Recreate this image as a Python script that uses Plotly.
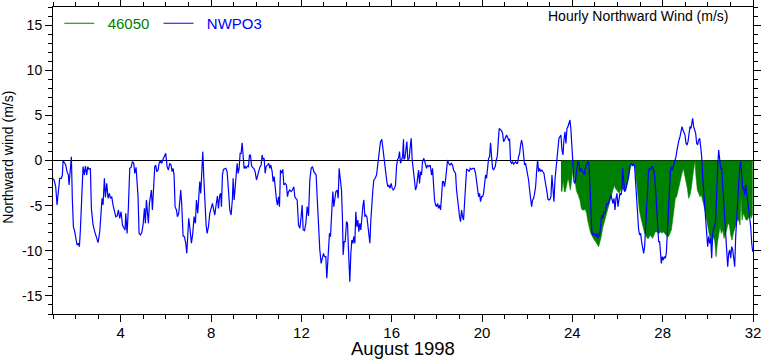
import plotly.graph_objects as go

# ---- NWPO3 hourly northward wind (day of August 1998, m/s) ----
nwpo3_day = [
1.000,1.046,1.120,1.179,1.297,1.371,1.415,1.445,1.519,1.563,1.622,1.681,1.711,1.770,1.814,1.858,1.903,1.962,
2.006,2.065,2.124,2.169,2.213,2.272,2.331,2.390,2.434,2.494,2.538,2.597,2.656,2.700,2.774,2.848,2.922,2.996,
3.070,3.129,3.173,3.217,3.276,3.321,3.380,3.439,3.498,3.542,3.601,3.660,3.719,3.779,3.838,3.897,3.956,
4.015,4.074,4.133,4.192,4.222,4.281,4.340,4.399,4.458,4.517,4.576,4.620,4.679,4.723,4.767,4.812,4.871,4.930,4.989,
5.048,5.092,5.137,5.181,5.225,5.269,5.314,5.358,5.402,5.447,5.506,5.550,5.594,5.654,5.698,5.757,5.816,5.875,5.934,5.993,
6.052,6.111,6.170,6.229,6.274,6.318,6.362,6.407,6.466,6.510,6.569,6.614,6.658,6.702,6.761,6.820,6.879,6.924,6.968,
7.012,7.071,7.130,7.189,7.249,7.308,7.352,7.411,7.455,7.500,7.544,7.588,7.633,7.677,7.736,7.780,7.825,7.884,7.943,
8.002,8.061,8.105,8.164,8.223,8.282,8.327,8.386,8.430,8.460,8.504,8.548,8.652,8.711,8.770,8.829,8.888,8.947,8.977,
9.021,9.065,9.110,9.154,9.198,9.243,9.287,9.331,9.376,9.420,9.464,9.509,9.553,9.612,9.656,9.701,9.745,9.789,9.833,9.893,9.952,
10.011,10.055,10.114,10.158,10.218,10.262,10.306,10.350,10.395,10.439,10.498,10.557,10.602,10.646,10.705,10.749,10.794,10.838,10.897,10.941,10.986,
11.030,11.074,11.118,11.178,11.222,11.281,11.340,11.384,11.429,11.488,11.547,11.606,11.665,11.709,11.754,11.813,11.872,11.931,11.990,
12.034,12.079,12.138,12.197,12.256,12.315,12.374,12.433,12.492,12.551,12.595,12.654,12.698,12.757,12.816,12.875,12.934,12.979,
13.023,13.082,13.126,13.185,13.244,13.289,13.348,13.392,13.436,13.481,13.525,13.584,13.628,13.673,13.732,13.776,13.820,13.850,13.894,13.939,13.998,
14.042,14.086,14.145,14.190,14.234,14.278,14.323,14.367,14.411,14.456,14.500,14.544,14.589,14.633,14.677,14.721,14.766,14.810,14.854,14.899,14.943,14.987,
15.032,15.076,15.120,15.165,15.209,15.268,15.327,15.371,15.416,15.460,15.504,15.563,15.608,15.652,15.696,15.741,15.785,15.829,15.874,15.918,15.977,
16.021,16.066,16.125,16.169,16.213,16.258,16.302,16.346,16.390,16.435,16.479,16.523,16.538,16.583,16.627,16.671,16.715,16.775,16.819,16.863,16.908,16.952,16.996,
17.055,17.100,17.144,17.188,17.232,17.277,17.321,17.365,17.424,17.484,17.543,17.587,17.646,17.705,17.764,17.808,17.853,17.897,17.941,17.986,
18.030,18.074,18.119,18.163,18.207,18.252,18.296,18.340,18.385,18.429,18.473,18.517,18.577,18.636,18.695,18.739,18.783,18.828,18.872,18.916,18.961,
19.005,19.049,19.093,19.138,19.182,19.226,19.271,19.315,19.374,19.433,19.477,19.537,19.596,19.655,19.714,19.758,19.802,19.847,19.891,19.935,19.980,
20.024,20.068,20.113,20.157,20.201,20.245,20.290,20.334,20.378,20.423,20.467,20.511,20.556,20.585,20.630,20.674,20.718,20.763,20.807,20.866,20.910,20.955,20.999,
21.043,21.088,21.132,21.176,21.220,21.265,21.309,21.353,21.398,21.442,21.486,21.531,21.575,21.619,21.664,21.708,21.752,21.796,21.841,21.885,21.929,21.974,
22.018,22.062,22.107,22.151,22.195,22.240,22.284,22.328,22.373,22.417,22.461,22.505,22.550,22.594,22.653,22.697,22.742,22.786,22.830,22.875,22.919,22.963,
23.008,23.052,23.096,23.141,23.185,23.229,23.273,23.318,23.362,23.406,23.451,23.495,23.539,23.584,23.628,23.672,23.717,23.761,23.805,23.850,23.894,23.938,23.982,
24.027,24.071,24.115,24.160,24.204,24.248,24.293,24.337,24.381,24.426,24.485,24.544,24.558,24.602,24.646,24.690,24.735,24.779,24.823,24.868,24.912,24.956,
25.001,25.045,25.089,25.134,25.178,25.222,25.266,25.311,25.355,25.399,25.444,25.488,25.532,25.577,25.621,25.665,25.710,25.754,25.798,25.843,25.887,25.931,25.975,
26.020,26.064,26.108,26.153,26.197,26.227,26.271,26.315,26.359,26.404,26.448,26.492,26.537,26.581,26.625,26.670,26.714,26.758,26.803,26.847,26.891,26.936,26.980,
27.024,27.068,27.113,27.157,27.201,27.246,27.290,27.334,27.379,27.423,27.467,27.512,27.556,27.600,27.645,27.689,27.733,27.777,27.822,27.866,27.910,27.940,27.984,
28.028,28.073,28.117,28.161,28.206,28.250,28.294,28.339,28.383,28.427,28.472,28.531,28.590,28.634,28.678,28.723,28.767,28.811,28.856,28.900,28.944,28.989,
29.033,29.077,29.122,29.166,29.210,29.254,29.299,29.328,29.373,29.417,29.461,29.506,29.550,29.594,29.639,29.683,29.727,29.771,29.816,29.860,29.904,29.949,29.993,
30.037,30.082,30.126,30.170,30.215,30.259,30.303,30.348,30.392,30.436,30.480,30.525,30.569,30.613,30.658,30.702,30.746,30.791,30.835,30.879,30.924,30.968,
31.012,31.056,31.101,31.145,31.189,31.234,31.278,31.322,31.367,31.411,31.455,31.500,31.544,31.588,31.633,31.677,31.721,31.766,31.810,31.854,31.899,31.943,31.987,
]
nwpo3_val = [
-2.00,-2.16,-2.90,-4.93,-1.97,-1.97,-1.61,-0.02,-0.31,-0.50,-1.24,-1.61,-2.71,-0.87,0.42,-4.37,-7.33,-7.88,
-8.43,-9.36,-9.17,-9.54,-7.69,-4.01,-0.68,-1.61,-0.61,-1.61,-0.68,-0.98,-0.87,-5.30,-7.14,-7.88,-8.43,-9.10,
-7.88,-6.22,-4.19,-4.93,-1.97,-4.08,-2.53,-4.19,-3.64,-4.19,-4.01,-4.93,-5.67,-6.22,-6.15,-5.48,-6.40,
-5.67,-7.14,-7.51,-7.69,-5.85,-8.07,-5.11,-0.87,-0.76,-0.13,-0.31,-1.42,-0.76,-2.34,-4.01,-8.07,-8.25,-7.99,-7.14,
-5.30,-6.96,-4.37,-6.15,-6.96,-4.74,-4.01,-3.27,-5.48,-3.45,-0.68,-0.50,-1.24,-1.05,-0.31,-0.02,-0.31,0.13,0.42,0.79,
-0.68,-1.05,-0.31,-0.50,-1.24,-0.87,-1.61,-5.11,-5.48,-6.22,-5.85,-4.74,-3.27,-4.93,-8.36,-8.43,-9.17,-10.28,-8.25,
-6.40,-7.69,-9.17,-8.07,-6.22,-6.96,-4.37,-5.85,-3.64,-2.34,-3.64,-1.79,0.98,-1.79,-5.48,-7.14,-8.07,-7.33,-5.85,
-5.11,-4.74,-5.30,-6.04,-4.93,-3.93,-5.30,-3.82,-3.64,-5.11,-1.61,-0.98,-0.87,-1.24,-3.27,-5.48,-6.04,-4.19,-1.97,
-4.37,-3.08,-1.42,-0.31,-1.42,-0.87,0.79,0.79,1.97,-0.31,-0.87,-0.68,-0.87,-0.61,-0.68,0.61,0.61,-0.50,-0.76,-0.87,-1.24,
-2.16,-1.79,-1.05,-0.76,-0.50,0.61,0.13,0.24,-1.42,-0.68,-0.50,-0.31,-0.87,-0.50,-1.24,-2.34,-1.79,-3.27,-4.37,-4.93,-4.01,
-5.11,-1.05,-1.42,-0.98,-2.71,-2.53,-2.71,-4.01,-3.45,-3.27,-3.45,-3.27,-2.90,-4.01,-4.19,-4.37,-7.14,-7.51,-6.22,
-4.93,-7.69,-7.77,-6.96,-5.11,-6.15,-2.16,-0.87,-0.68,-1.24,-1.42,-1.61,-4.01,-8.07,-9.91,-11.39,-10.65,-10.28,
-10.65,-10.65,-13.05,-11.02,-8.07,-8.43,-5.48,-3.45,-5.11,-4.01,-3.45,-3.27,-4.19,-0.87,-2.34,-3.27,-6.59,-10.47,-8.99,-8.99,-6.77,
-6.96,-9.91,-13.42,-10.28,-8.80,-9.17,-8.43,-9.17,-5.67,-7.33,-6.59,-7.88,-6.96,-7.69,-5.85,-5.11,-4.37,-6.22,-6.04,-6.22,-7.14,-7.88,
-9.17,-6.59,-4.37,-3.27,-2.16,-1.97,-1.61,-0.50,0.42,1.35,2.09,2.34,1.35,-0.13,-0.87,-1.79,-2.34,-2.90,-2.71,-3.08,-2.53,
-3.08,-3.27,-3.08,-2.71,-0.68,0.13,0.24,0.98,-0.31,0.24,0.42,2.34,0.13,0.24,1.24,2.09,0.06,0.24,1.53,2.45,0.06,-0.87,-2.16,
-3.27,-2.90,-1.61,-1.05,-2.53,-1.24,-1.61,-0.13,0.24,-0.31,-0.87,-0.50,-0.68,-0.50,-1.61,-0.87,-2.90,-4.37,-4.93,-5.11,
-4.74,-5.30,-4.93,-5.48,-4.01,-2.34,-2.34,-2.90,-2.16,-1.05,0.06,-0.31,-0.50,-0.31,-0.50,-1.05,-1.24,-1.42,-3.27,-4.37,-5.30,
-6.22,-6.77,-5.48,-6.22,-6.59,-4.74,-2.16,-0.98,-1.05,-1.24,-0.87,-0.98,-0.87,-0.87,-1.42,-2.34,-3.27,-4.01,-3.64,-4.56,-4.01,
-4.01,-3.64,-2.34,-1.61,-1.97,-0.31,0.24,0.42,1.97,0.42,-0.87,-1.05,-0.76,-0.68,0.06,0.42,2.09,3.56,3.45,3.30,3.01,2.09,2.27,
2.64,2.82,2.57,2.27,2.34,-0.13,-0.31,-0.13,-0.39,-0.31,-0.13,-0.31,-0.31,0.42,0.79,1.72,2.27,1.72,0.06,-0.50,-0.31,-0.87,
-1.61,-2.16,-3.27,-4.37,-5.11,-4.37,-4.19,-3.64,-2.90,-1.24,0.06,-1.24,-0.87,-1.24,-1.05,-1.24,-1.42,-2.16,-2.71,-3.45,-4.30,-4.37,
-4.30,-4.01,-1.61,-3.64,-4.56,-2.16,-0.87,0.06,1.35,2.45,2.64,2.82,1.16,0.61,2.27,3.19,1.90,3.56,3.75,4.12,4.49,3.38,1.53,
-0.31,-2.34,-2.53,-1.79,-0.68,-0.13,-0.31,-1.24,-0.87,-1.05,-1.42,-1.61,-0.98,-0.68,-0.24,-0.13,-0.31,-3.27,-6.59,-8.07,-8.25,-8.07,
-8.25,-8.43,-8.07,-8.62,-8.25,-8.07,-6.59,-6.04,-6.40,-5.67,-5.85,-5.11,-4.74,-4.93,-4.37,-4.19,-3.82,-4.37,-4.74,-4.19,-5.48,-4.19,-3.64,
-5.11,-4.37,-3.64,-3.82,-3.27,-0.87,-2.34,-3.45,-3.27,-2.90,-2.34,-1.79,-0.68,-0.50,-0.31,-0.61,-0.31,-0.68,-2.53,-4.01,-6.22,-7.69,-8.25,
-8.07,-8.99,-9.91,-10.28,-9.54,-7.69,-5.48,-3.82,-1.05,-0.87,-1.05,-0.68,-0.68,-1.05,-1.79,-3.27,-5.48,-7.33,-8.99,-8.99,-10.28,-11.39,-10.65,
-11.02,-10.65,-10.83,-10.28,-8.43,-5.48,-3.64,-1.24,-0.68,-1.05,-0.68,0.06,0.42,1.16,1.90,2.27,2.64,3.19,3.75,3.38,3.01,2.82,
1.90,1.72,2.09,3.01,3.75,3.56,4.30,4.67,3.75,3.19,3.01,1.90,1.72,2.27,2.45,1.53,0.42,-1.79,-3.64,-5.11,-6.59,-8.07,-9.54,
-8.43,-9.17,-8.62,-10.83,-8.07,-7.51,-7.33,-6.59,-2.34,-0.68,1.16,0.06,-0.87,-0.87,-2.90,-4.56,-6.22,-7.88,-9.73,-11.76,-10.28,-9.91,
-10.83,-9.54,-9.91,-10.65,-11.76,-8.43,-6.22,-4.56,-2.53,-0.68,-0.13,-1.42,-3.08,-3.08,-3.82,-2.71,-3.64,-4.74,-5.48,-6.22,-7.33,-9.17,-10.10,
]

# ---- Buoy 46050 hourly northward wind ----
b46050_day = [
23.495,23.539,23.598,23.643,23.687,23.731,23.776,23.820,23.864,23.909,23.953,23.997,
24.042,24.086,24.130,24.175,24.219,24.263,24.307,24.352,24.396,24.440,24.485,24.544,24.558,24.631,24.676,24.735,24.794,24.853,24.912,24.971,
25.030,25.104,25.163,25.222,25.281,25.340,25.399,25.459,25.518,25.577,25.636,25.695,25.754,25.813,25.857,25.902,25.961,
26.020,26.079,26.138,26.197,26.256,26.315,26.374,26.433,26.492,26.552,26.611,26.670,26.729,26.788,26.847,26.906,26.965,
27.024,27.083,27.142,27.201,27.260,27.319,27.379,27.438,27.497,27.556,27.615,27.674,27.733,27.792,27.851,27.910,27.970,
28.029,28.088,28.147,28.206,28.265,28.324,28.383,28.442,28.501,28.560,28.619,28.678,28.737,28.797,28.856,28.915,28.974,
29.033,29.092,29.151,29.210,29.269,29.328,29.387,29.432,29.476,29.535,29.594,29.653,29.712,29.771,29.830,29.889,29.949,
30.008,30.067,30.126,30.185,30.244,30.303,30.362,30.421,30.480,30.539,30.598,30.658,30.717,30.776,30.835,30.894,30.953,
31.012,31.071,31.130,31.189,31.248,31.307,31.367,31.426,31.470,31.514,31.573,31.633,31.692,31.751,31.810,31.869,31.928,31.987,
]
b46050_val = [
-3.27,-3.45,-2.16,-3.45,-3.45,-2.71,-2.34,-1.97,-2.90,-3.27,-2.53,-1.24,
-0.50,-1.61,-2.71,-3.27,-3.64,-3.82,-4.19,-4.56,-5.30,-5.48,-5.48,-5.48,-5.30,-5.85,-6.59,-7.33,-7.88,-8.25,-8.62,-8.80,
-8.99,-9.36,-9.54,-8.99,-8.43,-7.51,-6.96,-6.22,-5.67,-5.11,-4.56,-4.01,-3.45,-2.90,-2.71,-3.08,-3.27,
-3.56,-3.64,-3.27,-3.08,-3.27,-3.27,-3.08,-2.53,-1.79,-1.05,-0.50,-0.31,-0.24,-0.87,-2.53,-4.37,-5.48,
-6.22,-6.96,-7.51,-8.07,-8.25,-8.62,-8.62,-8.25,-8.43,-8.62,-8.25,-7.88,-7.88,-8.07,-8.07,-7.88,-8.07,
-7.88,-8.07,-8.25,-8.43,-8.43,-8.07,-7.69,-6.60,-5.50,-4.19,-4.01,-3.27,-2.53,-1.97,-1.42,-0.87,-1.79,
-2.34,-3.08,-4.19,-3.82,-3.08,-1.79,-0.68,-0.02,-1.79,-3.27,-3.64,-4.01,-3.82,-4.37,-4.93,-5.67,-6.59,
-7.51,-8.25,-8.99,-9.36,-8.43,-8.80,-10.65,-9.17,-8.07,-7.33,-8.07,-7.69,-8.62,-8.25,-7.69,-6.96,-7.14,
-8.25,-8.80,-8.07,-7.51,-6.96,-6.59,-6.59,-7.14,-4.01,-6.59,-5.85,-6.22,-6.59,-6.59,-6.22,-6.04,-6.40,-5.85,
]

x_ticks = [4, 8, 12, 16, 20, 24, 28, 32]
y_ticks = [-15, -10, -5, 0, 5, 10, 15]

fig = go.Figure()
# filled buoy record (legend shown by a line-only entry below)
fig.add_trace(go.Scatter(
    x=b46050_day, y=b46050_val, mode="lines", fill="tozeroy",
    fillcolor="#008000", line=dict(color="#008000", width=0.6),
    showlegend=False, legendgroup="b"))
fig.add_trace(go.Scatter(
    x=[None], y=[None], mode="lines", line=dict(color="#008000", width=1.2),
    name='<span style="color:#008000">\u00a0\u00a046050\u00a0</span>', legendgroup="b"))
fig.add_trace(go.Scatter(
    x=nwpo3_day, y=nwpo3_val, mode="lines",
    line=dict(color="#0000ff", width=1.2),
    name='<span style="color:#0000ff">\u00a0\u00a0NWPO3</span>'))

axis_common = dict(showline=True, linecolor="black", linewidth=1, mirror="ticks",
                   ticks="outside", ticklen=7, tickwidth=1, tickcolor="black",
                   showgrid=False, automargin=False)
fig.update_xaxes(range=[1, 32], tickvals=x_ticks, ticktext=[str(v) for v in x_ticks],
                 minor=dict(dtick=1, tick0=0, ticklen=4, ticks="outside", tickcolor="black", showgrid=False),
                 tickfont=dict(family="Liberation Sans, Arial", size=15, color="black"),
                 ticklabelstandoff=-2,
                 zeroline=False, **axis_common)
fig.update_yaxes(range=[-17, 17], tickvals=y_ticks, ticktext=[str(v) for v in y_ticks],
                 minor=dict(dtick=1, tick0=0, ticklen=4, ticks="outside", tickcolor="black", showgrid=False),
                 tickfont=dict(family="Liberation Sans, Arial", size=14, color="black"),
                 zeroline=True, zerolinecolor="black", zerolinewidth=1, **axis_common)

fig.update_layout(
    width=762, height=359,
    margin=dict(l=53, r=9, t=7, b=45),
    plot_bgcolor="white", paper_bgcolor="white",
    font=dict(family="Liberation Sans, Arial", color="black", size=14),
    legend=dict(orientation="h", x=0.009, y=1.0, xanchor="left", yanchor="top",
                bgcolor="rgba(0,0,0,0)", font=dict(size=15), itemwidth=30,
                traceorder="normal"),
    annotations=[
        dict(text="Hourly Northward Wind (m/s)", xref="paper", yref="paper",
             x=0.967, y=0.97, xanchor="right", yanchor="middle", showarrow=False,
             font=dict(size=14)),
        dict(text="August 1998", xref="paper", yref="paper",
             x=0.50, y=-0.154, xanchor="center", yanchor="bottom", showarrow=False,
             font=dict(family="Liberation Sans, Arial", size=18.5)),
        dict(text="Northward wind (m/s)", xref="paper", yref="paper",
             x=-0.064, y=0.51, xanchor="center", yanchor="middle", showarrow=False,
             textangle=-90, font=dict(size=14)),
    ],
)

fig.write_html("out.html", config={"displayModeBar": False},
               post_script="document.body.style.margin='0';document.body.style.padding='0';")
